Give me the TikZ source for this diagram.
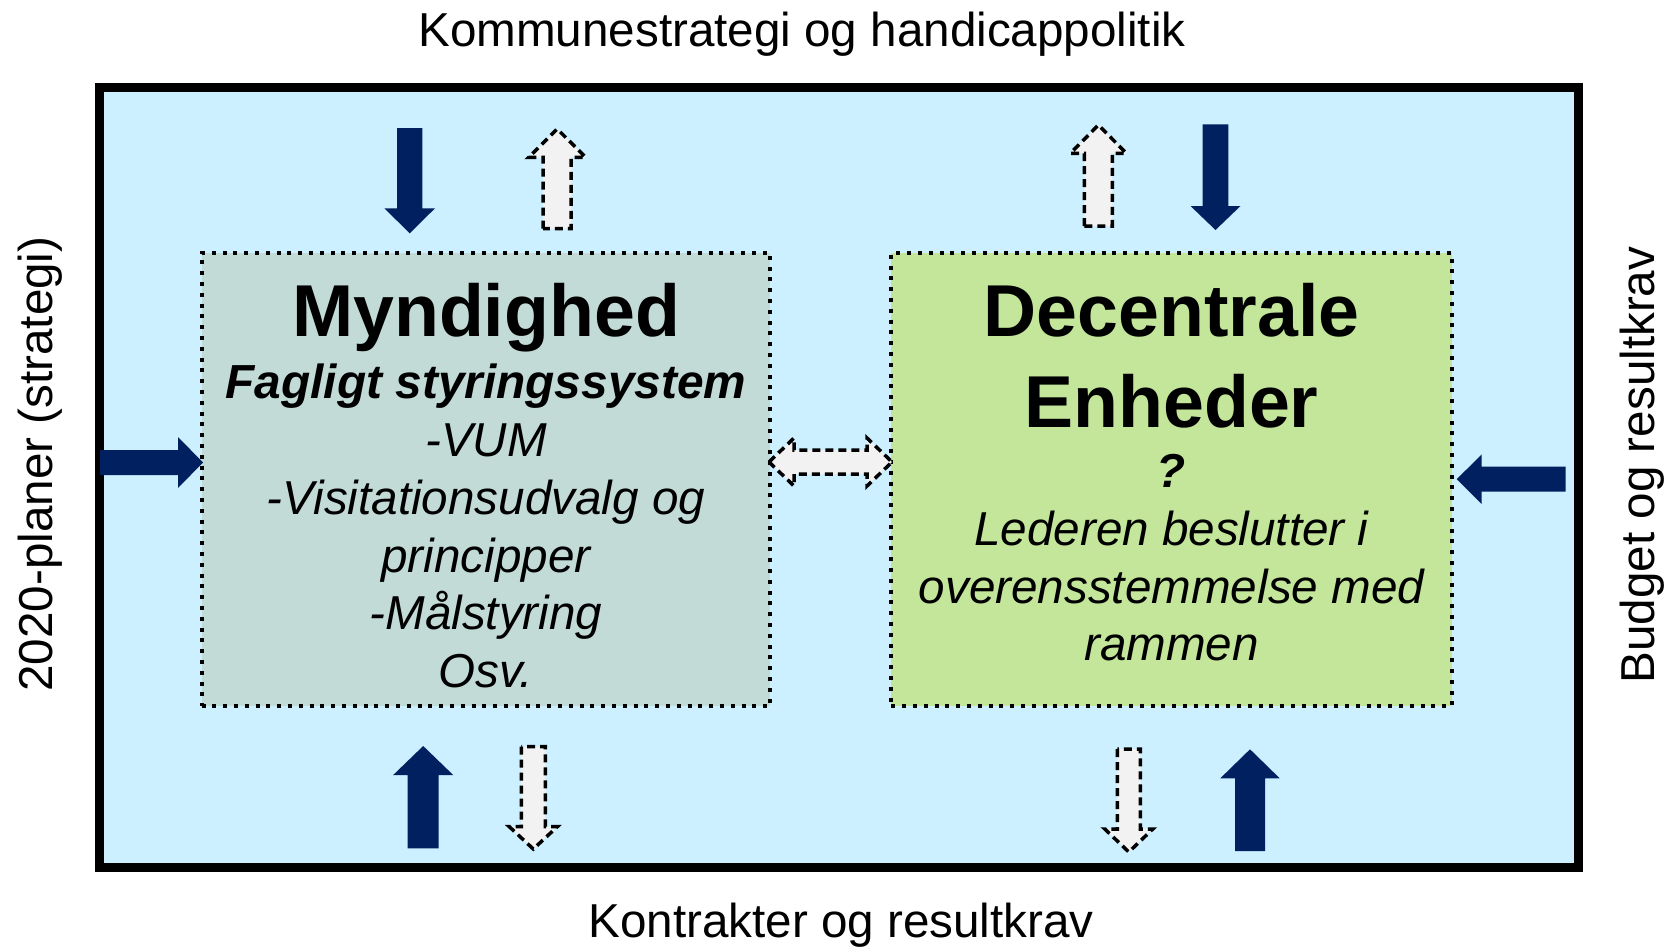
\documentclass[tikz,border=0pt]{standalone}
\usepackage{fontspec}
\setmainfont{Liberation Sans}
\definecolor{bgblue}{HTML}{CCF0FF}
\definecolor{myndfill}{HTML}{C2DBD6}
\definecolor{decfill}{HTML}{C3E69B}
\definecolor{navyblue}{HTML}{002060}
\definecolor{paleg}{HTML}{F2F2F2}
\newcommand\varrow[7]{\path[#1] (#2-#5,#3) -- (#2-#5,#4) -- (#2-#6,#4) -- (#2,#7) -- (#2+#6,#4) -- (#2+#5,#4) -- (#2+#5,#3) -- cycle;}
\newcommand\harrow[7]{\path[#1] (#3,#2-#5) -- (#4,#2-#5) -- (#4,#2-#6) -- (#7,#2) -- (#4,#2+#6) -- (#4,#2+#5) -- (#3,#2+#5) -- cycle;}
\tikzset{
  solidarrow/.style={fill=navyblue},
  dasharrow/.style={fill=paleg, draw=black, line width=3.5pt, dash pattern=on 8pt off 5pt},
  dotbox/.style={draw=black, line width=4pt, dash pattern=on 4pt off 6.8pt, inner sep=0pt, outer sep=0pt},
  frame/.style={draw=black, line width=9pt, fill=bgblue, inner sep=0pt, outer sep=0pt},
  big/.style={font=\fontsize{73.5}{90}\selectfont\bfseries, anchor=base, inner sep=0pt},
  body/.style={font=\fontsize{47.6}{57.7}\selectfont\itshape, anchor=base, inner sep=0pt},
  side/.style={font=\fontsize{47.6}{57.7}\selectfont, anchor=base, inner sep=0pt},
}
\begin{document}
\begin{tikzpicture}[x=1pt,y=-1pt]
\useasboundingbox (0,0) rectangle (1673,950);
\node[frame, minimum width=1479.5pt, minimum height=780pt] (outer) at (838.75,477) {};
\node[dotbox, fill=myndfill, minimum width=568.7pt, minimum height=453.5pt] (mynd) at (486,479.6) {};
\node[dotbox, fill=decfill, minimum width=560.7pt, minimum height=453.5pt] (dec) at (1171.8,479.6) {};

% block arrows
\varrow{solidarrow}{409.7}{128}{208.3}{12.7}{25.3}{233.3}
\varrow{dasharrow}{557.2}{228.5}{157.3}{14}{28.5}{129}
\varrow{dasharrow}{1098.4}{226}{153.3}{14}{28}{125}
\varrow{solidarrow}{1215.5}{124.3}{206}{12.8}{25}{230}
\varrow{solidarrow}{423.2}{848.3}{775}{15.5}{30}{746}
\varrow{dasharrow}{533.3}{746.5}{826.7}{12}{24}{849}
\varrow{dasharrow}{1128.8}{749}{829}{11.5}{24}{852}
\varrow{solidarrow}{1250}{851}{778.3}{15}{29.7}{749.3}
\harrow{solidarrow}{462.5}{100}{178}{12.5}{25.5}{203}
\harrow{solidarrow}{479.2}{1565.7}{1481.7}{12.5}{24.8}{1456.7}
\path[dasharrow] (769,462) -- (794,438) -- (794,450) -- (867,450) -- (867,438) -- (892,462)
  -- (867,486) -- (867,474) -- (794,474) -- (794,486) -- cycle;

% outer labels
\node[side] (top) at (802,47) {Kommunestrategi og handicappolitik};
\node[side] (bottom) at (841,937) {Kontrakter og resultkrav};
\node[side, rotate=90] (left) at (52,464) {2020-planer (strategi)};
\node[side, rotate=90] (right) at (1654,465) {Budget og resultkrav};

% Myndighed text
\node[big] (m1) at (486,336) {Myndighed};
\node[body, font=\fontsize{47.8}{57.7}\selectfont\bfseries\itshape] (m2) at (486,398) {Fagligt styringssystem};
\node[body] (m3) at (486,456.7) {-VUM};
\node[body] (m4) at (486,514.4) {-Visitationsudvalg og};
\node[body] (m5) at (486,572.1) {principper};
\node[body] (m6) at (486,629.8) {-Målstyring};
\node[body] (m7) at (486,687.5) {Osv.};

% Decentrale text
\node[big] (d1) at (1171.5,336) {Decentrale};
\node[big] (d2) at (1171.5,427) {Enheder};
\node[body, font=\fontsize{47.6}{57.7}\selectfont\bfseries\itshape] (d3) at (1171.5,487.6) {?};
\node[body] (d4) at (1171.5,545.3) {Lederen beslutter i};
\node[body] (d5) at (1171.5,603) {overensstemmelse med};
\node[body] (d6) at (1171.5,660.7) {rammen};
\end{tikzpicture}
\end{document}
